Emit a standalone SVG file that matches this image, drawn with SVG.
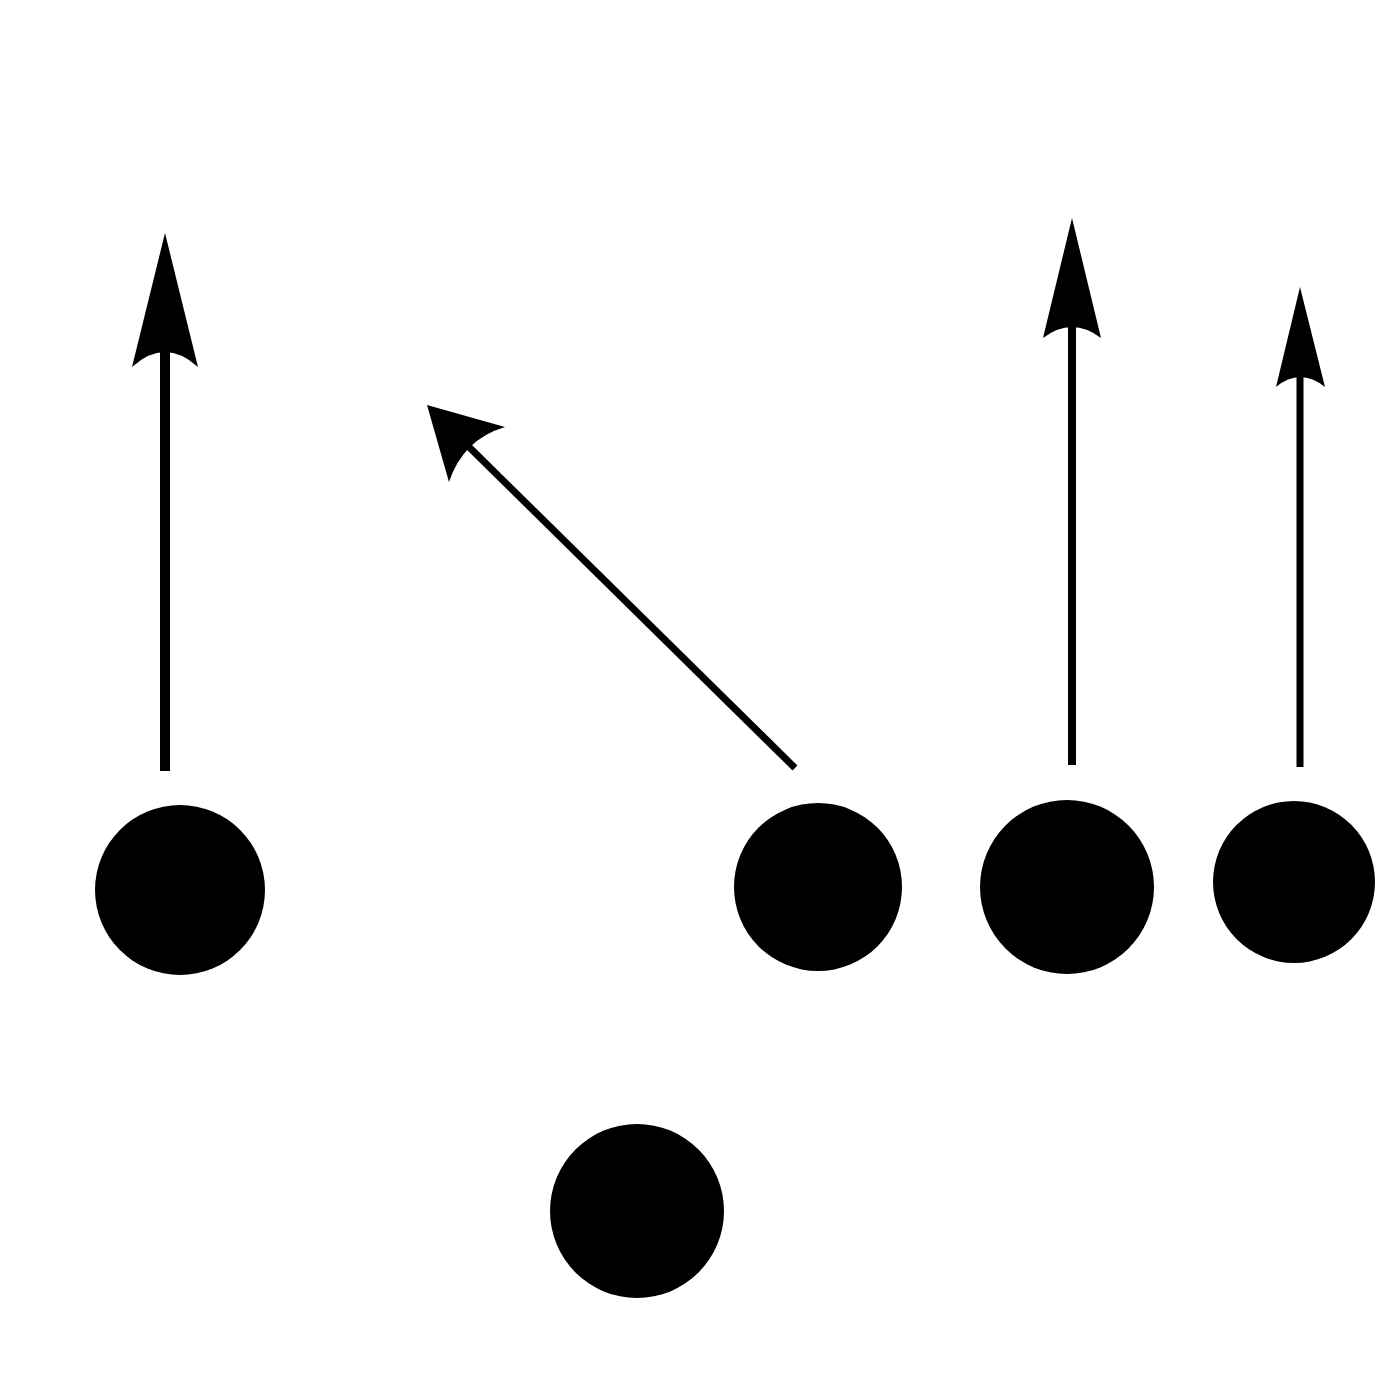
<svg xmlns="http://www.w3.org/2000/svg" width="1400" height="1400" viewBox="0 0 1400 1400">
<style>
.player{fill:#000}
.route{stroke:#000;fill:none}
.head{fill:#000}
</style>
<rect width="1400" height="1400" fill="#fff"/>
<g id="connectors">
<g id="route1"><line class="route" x1="165" y1="771" x2="165" y2="350" stroke-width="10"/><path class="head" d="M165,233 L198,367 Q165,337 132,367 Z"/></g>
<g id="route2"><line class="route" x1="795" y1="768" x2="466" y2="444" stroke-width="7"/><path class="head" d="M427,405 L505,427 Q463,439.5 449,482 Z"/></g>
<g id="route3"><line class="route" x1="1072" y1="765" x2="1072" y2="325" stroke-width="8"/><path class="head" d="M1072,218 L1101,338 Q1072,316 1043,338 Z"/></g>
<g id="route4"><line class="route" x1="1300" y1="767" x2="1300" y2="372" stroke-width="7"/><path class="head" d="M1300,287 L1325,387 Q1300,367 1276,387 Z"/></g>
</g>
<g id="p1"><circle class="player" cx="180" cy="890" r="85"/></g>
<g id="p2"><circle class="player" cx="818" cy="887" r="84"/></g>
<g id="p3"><circle class="player" cx="1067" cy="887" r="87"/></g>
<g id="p4"><circle class="player" cx="1294" cy="882" r="81"/></g>
<g id="p5"><circle class="player" cx="637" cy="1211" r="87"/></g>
</svg>
